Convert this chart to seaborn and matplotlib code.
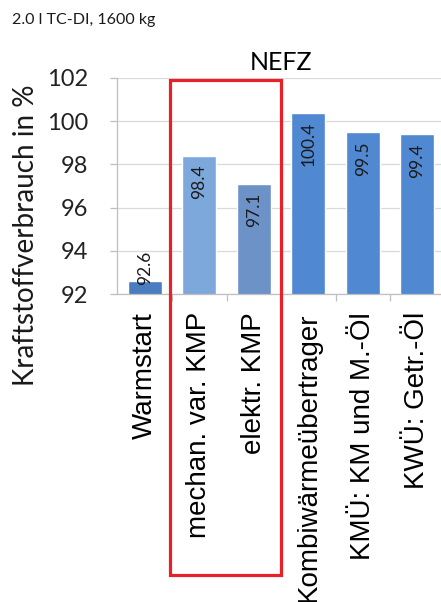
import matplotlib
matplotlib.use("Agg")
import matplotlib.pyplot as plt
import seaborn as sns
import pandas as pd
from matplotlib.patches import Rectangle
from matplotlib.ticker import FixedLocator

# Fuel consumption relative to the baseline, NEFZ cycle
categories = ["Warmstart", "mechan. var. KMP", "elektr. KMP",
              "Kombiwärmeübertrager", "KMÜ: KM und M.-Öl", "KWÜ: Getr.-Öl"]
values = [92.6, 98.4, 97.1, 100.4, 99.5, 99.4]
yticks = [92, 94, 96, 98, 100, 102]

bar_colors = ["#4a7cc0", "#7da8dc", "#6d92c8", "#5088d2", "#5088d2", "#5088d2"]

df = pd.DataFrame({"Maßnahme": categories, "Verbrauch": values})

sns.set_theme(style="white")
plt.rcParams["font.family"] = ["Lato", "DejaVu Sans"]

W, H = 441, 602
fig = plt.figure(figsize=(W / 100, H / 100), dpi=100)
ax = fig.add_axes([117.5 / W, 1 - 294 / H, 327 / W, 216 / H])

sns.barplot(data=df, x="Maßnahme", y="Verbrauch", hue="Maßnahme",
            palette=bar_colors, legend=False, width=0.62, ax=ax,
            bottom=0, saturation=1)

ax.set_ylim(92, 102)
ax.set_xlim(-0.5, len(categories) - 0.5)
ax.set_yticks(yticks)
ax.set_yticklabels([str(t) for t in yticks], fontsize=17, color="#222222",
                   family=["Lato", "DejaVu Sans"])
ax.yaxis.grid(True, color="#d9d9d9", linewidth=0.9)
ax.set_axisbelow(True)

ax.set_xticks(range(len(categories)))
ax.set_xticklabels(categories, rotation=90, fontsize=20, color="black",
                   family=["Liberation Sans", "DejaVu Sans"], va="top")
ax.xaxis.set_minor_locator(FixedLocator([i + 0.5 for i in range(len(categories))]))
ax.tick_params(axis="x", which="major", length=0, pad=13)
ax.tick_params(axis="x", which="minor", length=5, color="#bfbfbf", width=0.9, bottom=True)
ax.tick_params(axis="y", which="major", length=5, color="#bfbfbf", width=0.9, pad=16, left=True)

for side in ["top", "right"]:
    ax.spines[side].set_visible(False)
for side in ["left", "bottom"]:
    ax.spines[side].set_color("#bfbfbf")
    ax.spines[side].set_linewidth(0.9)

ax.set_xlabel("")
ax.set_ylabel("")

# value labels, written along each bar from its top end
for i, v in enumerate(values):
    if v - 92 > 2.2:
        ax.text(i, v - 0.42, f"{v:.1f}", rotation=90, ha="center", va="top",
                fontsize=12.5, color="#1a1a1a", family=["Lato", "DejaVu Sans"])
    else:
        ax.text(i, 92.4, f"{v:.1f}", rotation=90, ha="center", va="bottom",
                fontsize=12.5, color="#1a1a1a", family=["Lato", "DejaVu Sans"])

ax.set_title("NEFZ", fontsize=18, color="black", pad=6)

fig.text(26 / W, 1 - 235 / H, "Kraftstoffverbrauch in %", rotation=90,
         ha="center", va="center", fontsize=20, color="#1a1a1a")
fig.text(12 / W, 1 - 20 / H, "2.0 l TC-DI, 1600 kg", ha="left", va="center",
         fontsize=11.5, color="#1a1a1a")

# highlight frame around the two coolant pump variants
fig.patches.append(Rectangle((170 / W, 1 - 575 / H), 111 / W, 495 / H,
                             transform=fig.transFigure, fill=False,
                             edgecolor="#e8202a", linewidth=2.3))

fig.savefig("out.png", dpi=100, facecolor="white")
